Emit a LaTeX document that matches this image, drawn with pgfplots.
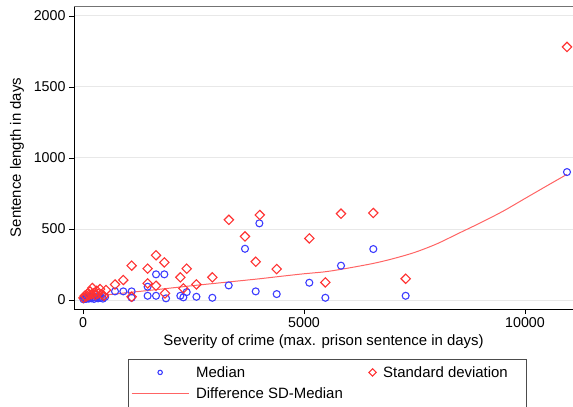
\documentclass[border=0pt]{standalone}
\usepackage{pgfplots}
\pgfplotsset{compat=1.18}
\usepackage{fontspec}
\setmainfont{Liberation Sans}
\definecolor{medblue}{RGB}{60,60,255}
\definecolor{sdred}{RGB}{255,50,50}
\definecolor{linered}{RGB}{255,100,100}
\definecolor{gridgray}{RGB}{232,232,232}
\pgfplotsset{
 medimg/.style={legend image code/.code={\draw[##1, mark size=2.2bp] plot coordinates {(28.5bp,0bp)};}},
 sdimg/.style={legend image code/.code={\draw[##1, mark size=2.6bp] plot coordinates {(0bp,0bp)};}},
 lineimg/.style={legend image code/.code={\draw[##1] (0bp,0bp) -- (57bp,0bp);}},
}
\begin{document}
\begin{tikzpicture}
\begin{axis}[
 scale only axis, width=499bp, height=303bp,
 xmin=-204, xmax=11086, ymin=-63, ymax=2070,
 axis lines*=left, axis line style={-, black, line width=0.8pt},
 xtick={0,5000,10000}, ytick={0,500,1000,1500,2000},
 scaled ticks=false,
 /pgf/number format/assume math mode=true, /pgf/number format/1000 sep={},
 tick align=outside, major tick length=5bp, tick style={black, line width=0.8pt},
 ymajorgrids, grid style={gridgray, line width=1pt},
 ticklabel style={font=\fontsize{14.3}{16}\selectfont},
 xlabel={Severity of crime (max. prison sentence in days)},
 ylabel={Sentence length in days},
 every axis x label/.style={at={(axis description cs:0.5,0)}, yshift=-33bp, anchor=center, font=\fontsize{15}{18}\selectfont},
 every axis y label/.style={at={(axis description cs:0,0.5)}, xshift=-57bp, rotate=90, anchor=center, font=\fontsize{15}{18}\selectfont},
 legend columns=2,
 legend cell align=left,
 legend style={at={(axis description cs:0.507,-0.165)}, anchor=north, draw=black!70, line width=0.6pt,
   font=\fontsize{15}{18}\selectfont, inner xsep=3bp, inner ysep=5bp, row sep=4bp,
   /tikz/every even column/.append style={column sep=24bp},
   /tikz/every odd column/.append style={column sep=5bp}},
]
\addplot[only marks, mark=o, mark size=3.5bp, medblue, mark options={line width=1.1pt}, medimg]
 coordinates {
 (10,5) (40,12) (70,8) (100,18) (130,10) (160,22) (190,12) (220,20) (250,8) (280,18)
 (310,25) (340,12) (370,20) (400,15) (450,10) (500,22)
 (724,61) (912,61) (1100,61) (1100,16) (1462,94) (1462,30) (1652,181) (1840,181)
 (1652,30) (1878,12) (2202,30) (2270,19) (2346,56) (2566,23) (2926,16) (3296,103)
 (3665,361) (3907,61) (3990,540) (4382,42) (5120,122) (5483,16) (5837,242) (6568,359)
 (7300,30) (10950,901)
 };
\addlegendentry{Median}
\addplot[only marks, mark=square, mark size=3.3bp, sdred, mark options={rotate=45, line width=1.1pt}, sdimg]
 coordinates {
 (10,15) (40,30) (70,25) (100,45) (130,35) (160,60) (190,40) (210,85) (250,50) (280,35)
 (310,65) (340,45) (385,77) (420,40) (470,30) (520,70)
 (724,110) (912,141) (1100,242) (1100,23) (1462,221) (1462,117) (1652,315) (1652,101)
 (1840,265) (1855,47) (2202,160) (2346,221) (2270,82) (2566,110) (2926,160) (3300,565)
 (3665,448) (3907,270) (4000,599) (4382,218) (5120,434) (5483,124) (5837,608) (6568,613)
 (7300,150) (10950,1782)
 };
\addlegendentry{Standard deviation\hspace*{13bp}}
\addplot[linered, line width=1pt, smooth, lineimg]
 coordinates {
 (0,18) (500,35) (1000,52) (1500,68) (2000,85) (2500,102) (3000,118) (3500,134)
 (4000,150) (4500,168) (5000,185) (5500,200) (6000,225) (6568,258) (7000,290)
 (7500,335) (8000,395) (8500,470) (9000,545) (9500,625) (10000,715) (10500,805) (10950,885)
 };
\addlegendentry{Difference SD-Median}
\addlegendimage{empty legend}\addlegendentry{\strut}
\addlegendimage{empty legend}\addlegendentry{\strut}
\draw[black!55, line width=1pt] (rel axis cs:0,1) -- (rel axis cs:1,1);
\end{axis}
\pgfresetboundingbox
\path (-74bp,-98bp) rectangle (499bp,309bp);
\end{tikzpicture}
\end{document}
